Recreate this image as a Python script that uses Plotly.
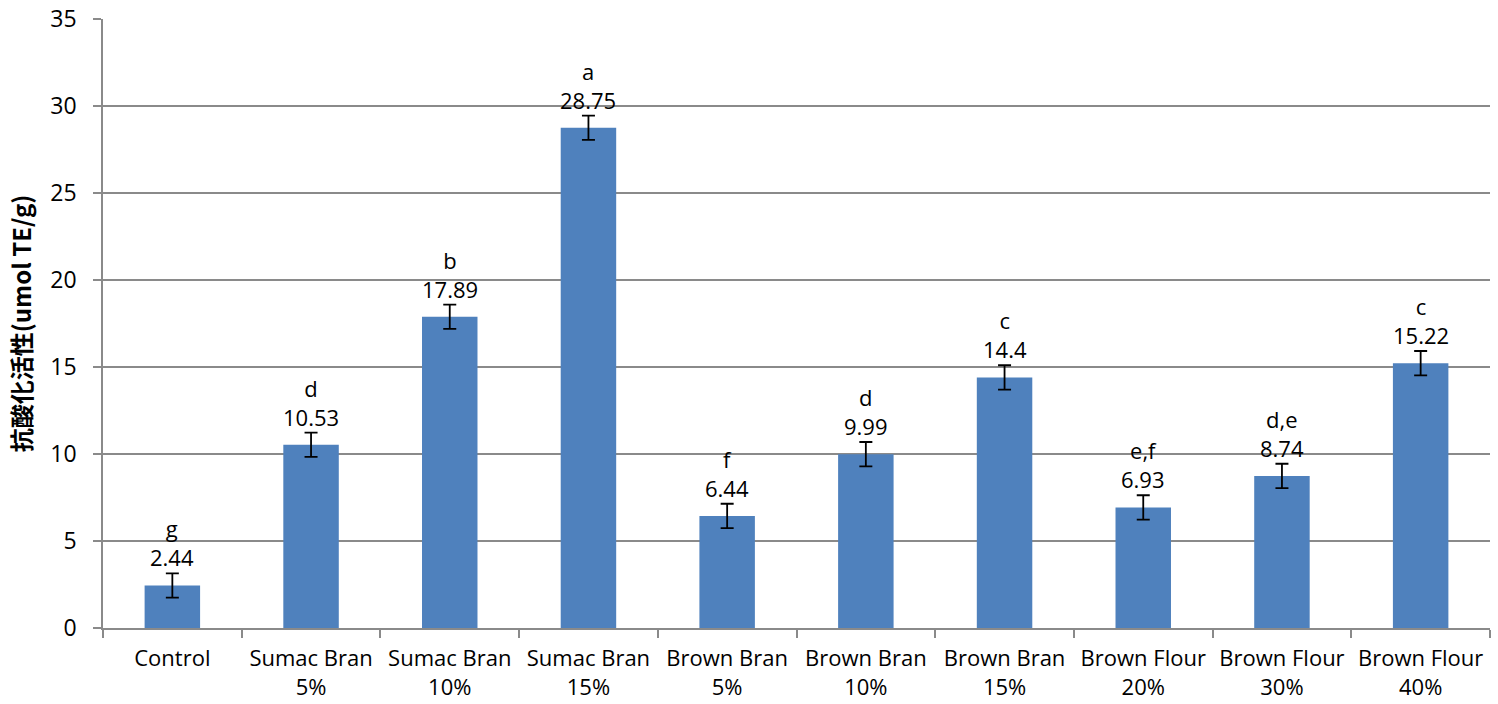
import plotly.graph_objects as go

categories = ["Control", "Sumac Bran<br>5%", "Sumac Bran<br>10%", "Sumac Bran<br>15%",
              "Brown Bran<br>5%", "Brown Bran<br>10%", "Brown Bran<br>15%",
              "Brown Flour<br>20%", "Brown Flour<br>30%", "Brown Flour<br>40%"]
values = [2.44, 10.53, 17.89, 28.75, 6.44, 9.99, 14.4, 6.93, 8.74, 15.22]
errors = [0.7, 0.7, 0.7, 0.7, 0.7, 0.7, 0.7, 0.7, 0.7, 0.7]
letters = ["g", "d", "b", "a", "f", "d", "c", "e,f", "d,e", "c"]
value_labels = ["2.44", "10.53", "17.89", "28.75", "6.44", "9.99", "14.4", "6.93", "8.74", "15.22"]
y_ticks = [0, 5, 10, 15, 20, 25, 30, 35]

FONT = "Open Sans, DejaVu Sans, sans-serif"
GRID = "#8a8a8a"
FS = 23

fig = go.Figure()
fig.add_trace(go.Bar(
    x=categories, y=values,
    marker=dict(color="#4f81bd", line=dict(width=0)),
    width=0.4,
    error_y=dict(type="data", array=errors, visible=True, color="black", thickness=1.8, width=6.5),
    showlegend=False,
))

for c, v, e, l, t in zip(categories, values, errors, letters, value_labels):
    fig.add_annotation(x=c, y=v + e, text=f"{l}<br>{t}", showarrow=False,
                       yanchor="bottom", yshift=-1,
                       font=dict(family=FONT, size=22, color="black"))

fig.update_layout(
    width=1498, height=704,
    margin=dict(l=103, r=8, t=19, b=76, pad=0),
    paper_bgcolor="white", plot_bgcolor="white",
    font=dict(family=FONT, size=FS, color="black"),
)
fig.update_xaxes(
    showline=True, linecolor=GRID, linewidth=1.5,
    ticks="outside", tickson="boundaries", ticklen=8, tickcolor=GRID, tickwidth=1.5,
    tickfont=dict(family=FONT, size=22, color="black"),
    tickangle=0, automargin=False,
    ticklabelstandoff=10,
    showgrid=False,
)
fig.update_yaxes(
    range=[0, 35], tickvals=y_ticks,
    showline=True, linecolor=GRID, linewidth=1.5,
    ticks="outside", ticklen=8, tickcolor=GRID, tickwidth=1.5,
    showgrid=True, gridcolor=GRID, gridwidth=1.5,
    tickfont=dict(family=FONT, size=FS, color="black"),
    ticklabelstandoff=12, automargin=False,
    title=dict(text="<b>抗酸化活性(umol TE/g)</b>",
               font=dict(family="Noto Sans CJK JP, " + FONT, size=24), standoff=12),
    zeroline=False,
)

fig.write_html("out.html", config={"displayModeBar": False},
               post_script="document.body.style.margin='0';")
